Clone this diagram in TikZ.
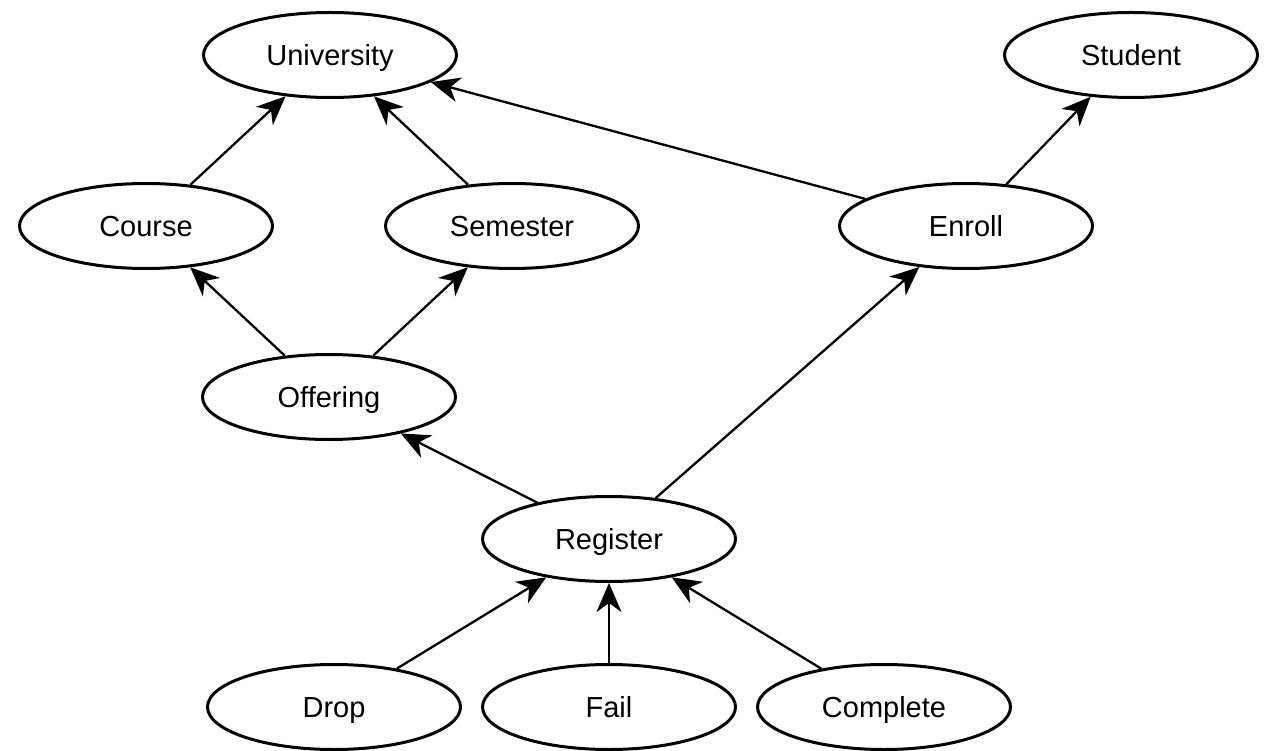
\documentclass[tikz,border=0pt]{standalone}
\usepackage{fontspec}
\setmainfont{Liberation Sans}
\usetikzlibrary{shapes.geometric,arrows.meta}
\begin{document}
\begin{tikzpicture}[x=1pt,y=-1pt,
  entity/.style={ellipse,draw=black,line width=3pt,fill=white,
    minimum width=253pt,minimum height=85pt,inner sep=0pt,
    text height=21pt,text depth=0pt,
    font=\fontsize{29}{34}\selectfont},
  dep/.style={line width=2.3pt,-{Stealth[length=29pt,width=25pt,inset=9pt]}}]
\useasboundingbox (0,0) rectangle (1271,751);
% entities
\node[entity] (univ) at (330,55) {University};
\node[entity] (student) at (1131,55) {Student};
\node[entity] (course) at (146,226) {Course};
\node[entity] (semester) at (512,226) {Semester};
\node[entity] (enroll) at (966,226) {Enroll};
\node[entity] (offering) at (329,397) {Offering};
\node[entity] (register) at (609,539) {Register};
\node[entity] (drop) at (334,707) {Drop};
\node[entity] (fail) at (609,707) {Fail};
\node[entity] (complete) at (884,707) {Complete};
% dependencies
\draw[dep] (course) -- (univ);
\draw[dep] (semester) -- (univ);
\draw[dep] (enroll) -- (univ);
\draw[dep] (enroll) -- (student);
\draw[dep] (offering) -- (course);
\draw[dep] (offering) -- (semester);
\draw[dep] (register) -- (offering);
\draw[dep] (register) -- (enroll);
\draw[dep] (drop) -- (register);
\draw[dep] (fail) -- (register);
\draw[dep] (complete) -- (register);
\end{tikzpicture}
\end{document}
